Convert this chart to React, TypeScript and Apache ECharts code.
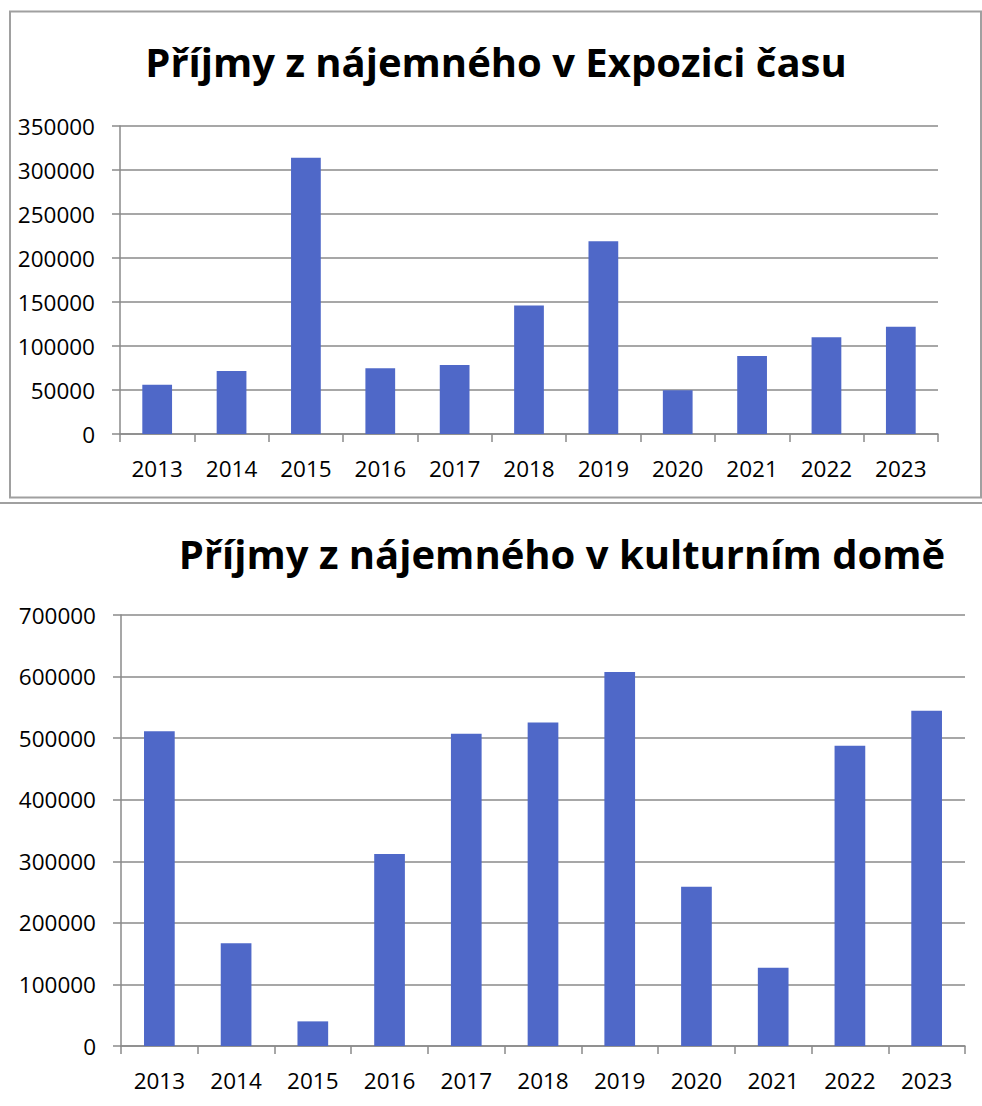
import React, { useEffect, useRef } from "react";
import * as echarts from "echarts";

const years = ["2013", "2014", "2015", "2016", "2017", "2018", "2019", "2020", "2021", "2022", "2023"];
const expoziceValues = [56000, 71600, 314000, 74600, 78400, 146000, 219000, 49600, 88600, 110000, 122000];
const kulturniDumValues = [511000, 167000, 40000, 312000, 507000, 525500, 607400, 258700, 126900, 487500, 544500];
const titleTop = "Příjmy z nájemného v Expozici času";
const titleBottom = "Příjmy z nájemného v kulturním domě";

const FONT = "'Open Sans', 'Noto Sans', sans-serif";
const GRAY = "#8a8a8a";
const BAR = "#4f68c8";

export default function App() {
  const ref = useRef<HTMLDivElement>(null);
  useEffect(() => {
    if (!ref.current) return;
    const chart = echarts.init(ref.current, null, { renderer: "svg" });
    const yAxisCommon = {
      type: "value" as const,
      min: 0,
      axisLine: { show: true, lineStyle: { color: GRAY, width: 1.5 } },
      axisTick: { show: true, length: 8, lineStyle: { color: GRAY, width: 1.5 } },
      splitLine: { show: true, lineStyle: { color: GRAY, width: 1.5 } },
      axisLabel: {
        color: "#000",
        fontFamily: FONT,
        fontSize: 22.5,
        margin: 25,
        formatter: (v: number) => String(v),
      },
    };
    const xAxisCommon = {
      type: "category" as const,
      data: years,
      axisLine: { show: true, lineStyle: { color: GRAY, width: 1.5 } },
      axisTick: { show: true, length: 8, lineStyle: { color: GRAY, width: 1.5 } },
      axisLabel: { color: "#000", fontFamily: FONT, fontSize: 22.5, margin: 23, interval: 0 },
    };
    chart.setOption({
      animation: false,
      backgroundColor: "#fff",
      title: [
        {
          text: titleTop,
          left: 491,
          top: 36,
          textAlign: "center",
          textStyle: { fontFamily: FONT, fontWeight: "bold", fontSize: 40, color: "#000" },
        },
        {
          text: titleBottom,
          left: 557,
          top: 528,
          textAlign: "center",
          textStyle: { fontFamily: FONT, fontWeight: "bold", fontSize: 40, color: "#000" },
        },
      ],
      grid: [
        { left: 120, right: 44, top: 126, height: 308, containLabel: false },
        { left: 121, right: 17, top: 615, height: 431, containLabel: false },
      ],
      xAxis: [
        { ...xAxisCommon, gridIndex: 0 },
        { ...xAxisCommon, gridIndex: 1 },
      ],
      yAxis: [
        { ...yAxisCommon, gridIndex: 0, max: 350000, interval: 50000 },
        { ...yAxisCommon, gridIndex: 1, max: 700000, interval: 100000 },
      ],
      series: [
        {
          type: "bar",
          xAxisIndex: 0,
          yAxisIndex: 0,
          data: expoziceValues,
          barWidth: "40%",
          itemStyle: { color: BAR },
        },
        {
          type: "bar",
          xAxisIndex: 1,
          yAxisIndex: 1,
          data: kulturniDumValues,
          barWidth: "40%",
          itemStyle: { color: BAR },
        },
      ],
      graphic: [
        {
          type: "rect",
          shape: { x: 10, y: 11.5, width: 971, height: 486 },
          style: { fill: "none", stroke: "#a0a0a0", lineWidth: 2 },
          silent: true,
        },
        {
          type: "line",
          shape: { x1: 0, y1: 503, x2: 982, y2: 503 },
          style: { stroke: "#a0a0a0", lineWidth: 2 },
          silent: true,
        },
      ],
    });
    return () => chart.dispose();
  }, []);
  return (
    <div
      ref={ref}
      style={{ position: "absolute", left: 0, top: 0, width: 982, height: 1106 }}
    />
  );
}
